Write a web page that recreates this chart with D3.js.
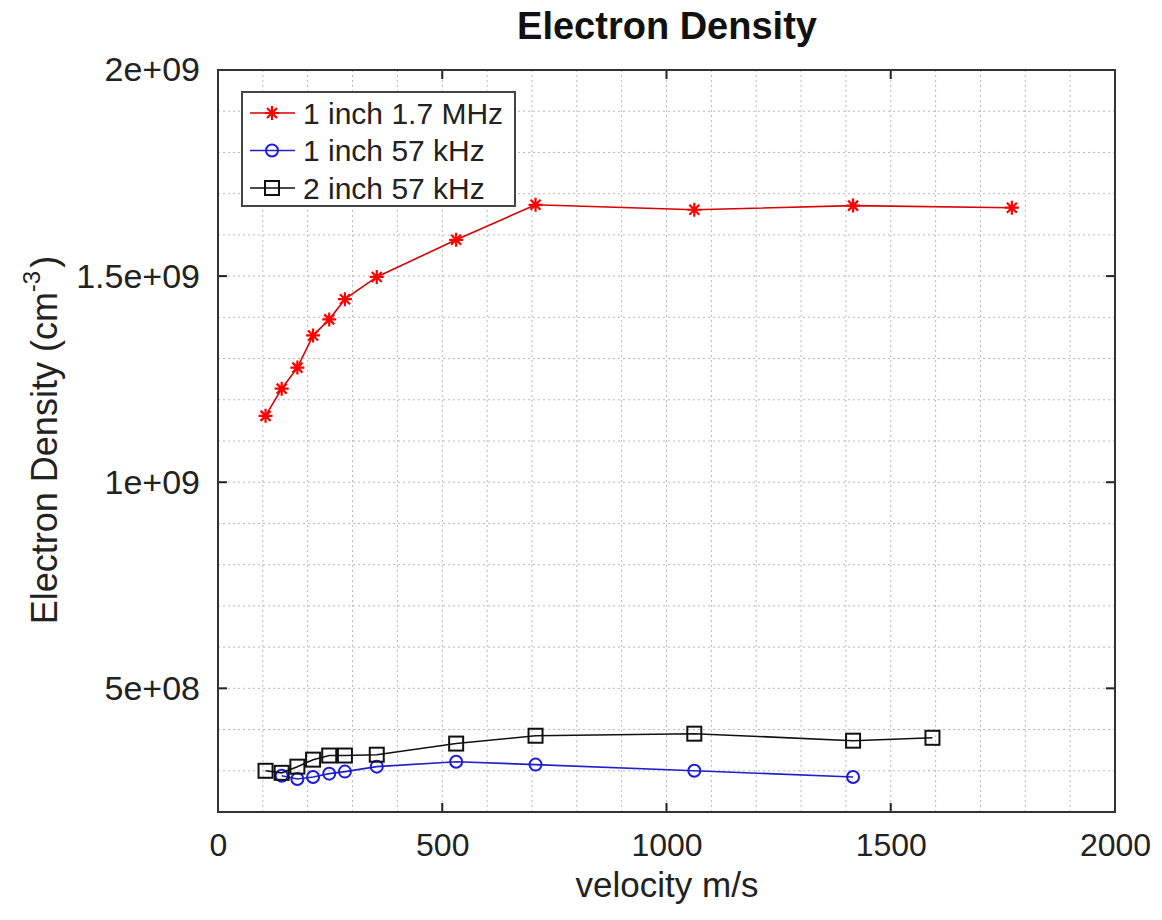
<!DOCTYPE html>
<html>
<head>
<meta charset="utf-8">
<script src="https://cdn.jsdelivr.net/npm/d3@7"></script>
<style>
  html, body { margin: 0; padding: 0; background: #fff; }
  svg { display: block; font-family: "Liberation Sans", Arial, Helvetica, sans-serif; }
</style>
</head>
<body>
<svg id="chart" width="1162" height="920"></svg>
<script>
// ---- data ----
const redVelocity   = [106, 142, 177, 212, 248, 283, 354, 531, 708, 1062, 1416, 1770];
const redDensity    = [1.161e9, 1.227e9, 1.278e9, 1.356e9, 1.395e9, 1.444e9, 1.498e9, 1.588e9, 1.673e9, 1.661e9, 1.671e9, 1.666e9];
const blueVelocity  = [142, 177, 212, 248, 283, 354, 531, 708, 1062, 1416];
const blueDensity   = [2.88e8, 2.80e8, 2.85e8, 2.93e8, 2.98e8, 3.10e8, 3.22e8, 3.15e8, 3.00e8, 2.85e8];
const blackVelocity = [106, 142, 177, 212, 248, 283, 354, 531, 708, 1062, 1416, 1593];
const blackDensity  = [3.00e8, 2.95e8, 3.10e8, 3.27e8, 3.37e8, 3.37e8, 3.39e8, 3.66e8, 3.85e8, 3.90e8, 3.73e8, 3.80e8];
const seriesNames   = ["1 inch 1.7 MHz", "1 inch 57 kHz", "2 inch 57 kHz"];
const xTickValues   = [0, 500, 1000, 1500, 2000];
const xTickLabels   = ["0", "500", "1000", "1500", "2000"];
const yTickValues   = [5e8, 1e9, 1.5e9, 2e9];
const yTickLabels   = ["5e+08", "1e+09", "1.5e+09", "2e+09"];
const xDomain = [0, 2000];
const yDomain = [2e8, 2e9];

// ---- layout ----
const L = 218, R = 1115, T = 70, B = 812;
const svg = d3.select("#chart");
const x = d3.scaleLinear().domain(xDomain).range([L, R]);
const y = d3.scaleLinear().domain(yDomain).range([B, T]);

// grid (every 100 m/s and every 1e8)
const xGrid = d3.range(100, 2000, 100);
const yGrid = d3.range(3e8, 2e9, 1e8);
const grid = svg.append("g");
grid.selectAll("line.gx").data(xGrid).join("line")
  .attr("x1", d => x(d)).attr("x2", d => x(d)).attr("y1", T).attr("y2", B)
  .attr("stroke", "#b8b8b8").attr("stroke-width", 1).attr("stroke-dasharray", "2,3");
grid.selectAll("line.gy").data(yGrid).join("line")
  .attr("y1", d => y(d)).attr("y2", d => y(d)).attr("x1", L).attr("x2", R)
  .attr("stroke", "#b8b8b8").attr("stroke-width", 1).attr("stroke-dasharray", "2,3");

// axes (labels)
const xAxis = svg.append("g").attr("transform", `translate(0,${B})`)
  .call(d3.axisBottom(x).tickValues(xTickValues).tickSize(0).tickPadding(21)
    .tickFormat((d, i) => xTickLabels[i]));
xAxis.select(".domain").remove();
xAxis.selectAll("text").attr("font-size", 32).attr("fill", "#222")
  .attr("font-family", "Liberation Sans, Arial, sans-serif");

const yAxis = svg.append("g").attr("transform", `translate(${L},0)`)
  .call(d3.axisLeft(y).tickValues(yTickValues).tickSize(0).tickPadding(18)
    .tickFormat((d, i) => yTickLabels[i]));
yAxis.select(".domain").remove();
yAxis.selectAll("text").attr("font-size", 34).attr("fill", "#222")
  .attr("font-family", "Liberation Sans, Arial, sans-serif");

// inward tick marks on all four sides
const tk = svg.append("g").attr("stroke", "#222").attr("stroke-width", 2);
xTickValues.slice(1, -1).forEach(v => {
  tk.append("line").attr("x1", x(v)).attr("x2", x(v)).attr("y1", B).attr("y2", B - 9);
  tk.append("line").attr("x1", x(v)).attr("x2", x(v)).attr("y1", T).attr("y2", T + 9);
});
yTickValues.slice(0, -1).forEach(v => {
  tk.append("line").attr("y1", y(v)).attr("y2", y(v)).attr("x1", L).attr("x2", L + 9);
  tk.append("line").attr("y1", y(v)).attr("y2", y(v)).attr("x1", R).attr("x2", R - 9);
});

// frame
svg.append("rect").attr("x", L).attr("y", T).attr("width", R - L).attr("height", B - T)
  .attr("fill", "none").attr("stroke", "#333").attr("stroke-width", 2);

// series
const series = [
  { name: seriesNames[0], xs: redVelocity, ys: redDensity, line: "#d80000", mark: "#ff0000", shape: "star" },
  { name: seriesNames[1], xs: blueVelocity, ys: blueDensity, line: "#2020cc", mark: "#1a1ae0", shape: "circle" },
  { name: seriesNames[2], xs: blackVelocity, ys: blackDensity, line: "#111", mark: "#111", shape: "square" }
];

function drawMarker(g, shape, color, cx, cy) {
  if (shape === "star") {
    const s = 7, d = 5;
    const p = `M${cx - s},${cy}L${cx + s},${cy}M${cx},${cy - s}L${cx},${cy + s}` +
              `M${cx - d},${cy - d}L${cx + d},${cy + d}M${cx - d},${cy + d}L${cx + d},${cy - d}`;
    g.append("path").attr("d", p).attr("stroke", color).attr("stroke-width", 2.2).attr("fill", "none");
  } else if (shape === "circle") {
    g.append("circle").attr("cx", cx).attr("cy", cy).attr("r", 6)
      .attr("fill", "none").attr("stroke", color).attr("stroke-width", 2);
  } else {
    g.append("rect").attr("x", cx - 7).attr("y", cy - 7).attr("width", 14).attr("height", 14)
      .attr("fill", "none").attr("stroke", color).attr("stroke-width", 2);
  }
}

const lineGen = d3.line().x(d => x(d[0])).y(d => y(d[1]));
series.forEach(s => {
  const pts = s.xs.map((v, i) => [v, s.ys[i]]);
  const g = svg.append("g");
  g.append("path").attr("d", lineGen(pts)).attr("fill", "none")
    .attr("stroke", s.line).attr("stroke-width", 1.6);
  pts.forEach(p => drawMarker(g, s.shape, s.mark, x(p[0]), y(p[1])));
});

// legend
const lg = svg.append("g");
lg.append("rect").attr("x", 242).attr("y", 92).attr("width", 273).attr("height", 114)
  .attr("fill", "#fff").attr("stroke", "#444").attr("stroke-width", 2);
series.forEach((s, i) => {
  const cy = 113 + i * 37.5;
  lg.append("line").attr("x1", 250).attr("x2", 295).attr("y1", cy).attr("y2", cy)
    .attr("stroke", s.line).attr("stroke-width", 1.6);
  drawMarker(lg, s.shape, s.mark, 272, cy);
  lg.append("text").attr("x", 303).attr("y", cy + 10.5).attr("font-size", 30)
    .attr("fill", "#222").text(s.name);
});

// title
svg.append("text").attr("x", 667).attr("y", 39).attr("text-anchor", "middle")
  .attr("font-size", 38).attr("font-weight", "bold").attr("fill", "#111").text("Electron Density");

// x label
svg.append("text").attr("x", 667).attr("y", 897).attr("text-anchor", "middle")
  .attr("font-size", 35).attr("fill", "#222").text("velocity m/s");

// y label
const yl = svg.append("text").attr("transform", "translate(57,440) rotate(-90)")
  .attr("text-anchor", "middle").attr("font-size", 36).attr("fill", "#222");
yl.append("tspan").text("Electron Density (cm");
yl.append("tspan").attr("dy", -17).attr("font-size", 24).text("-3");
yl.append("tspan").attr("dy", 17).attr("dx", 3).text(")");
</script>
</body>
</html>
